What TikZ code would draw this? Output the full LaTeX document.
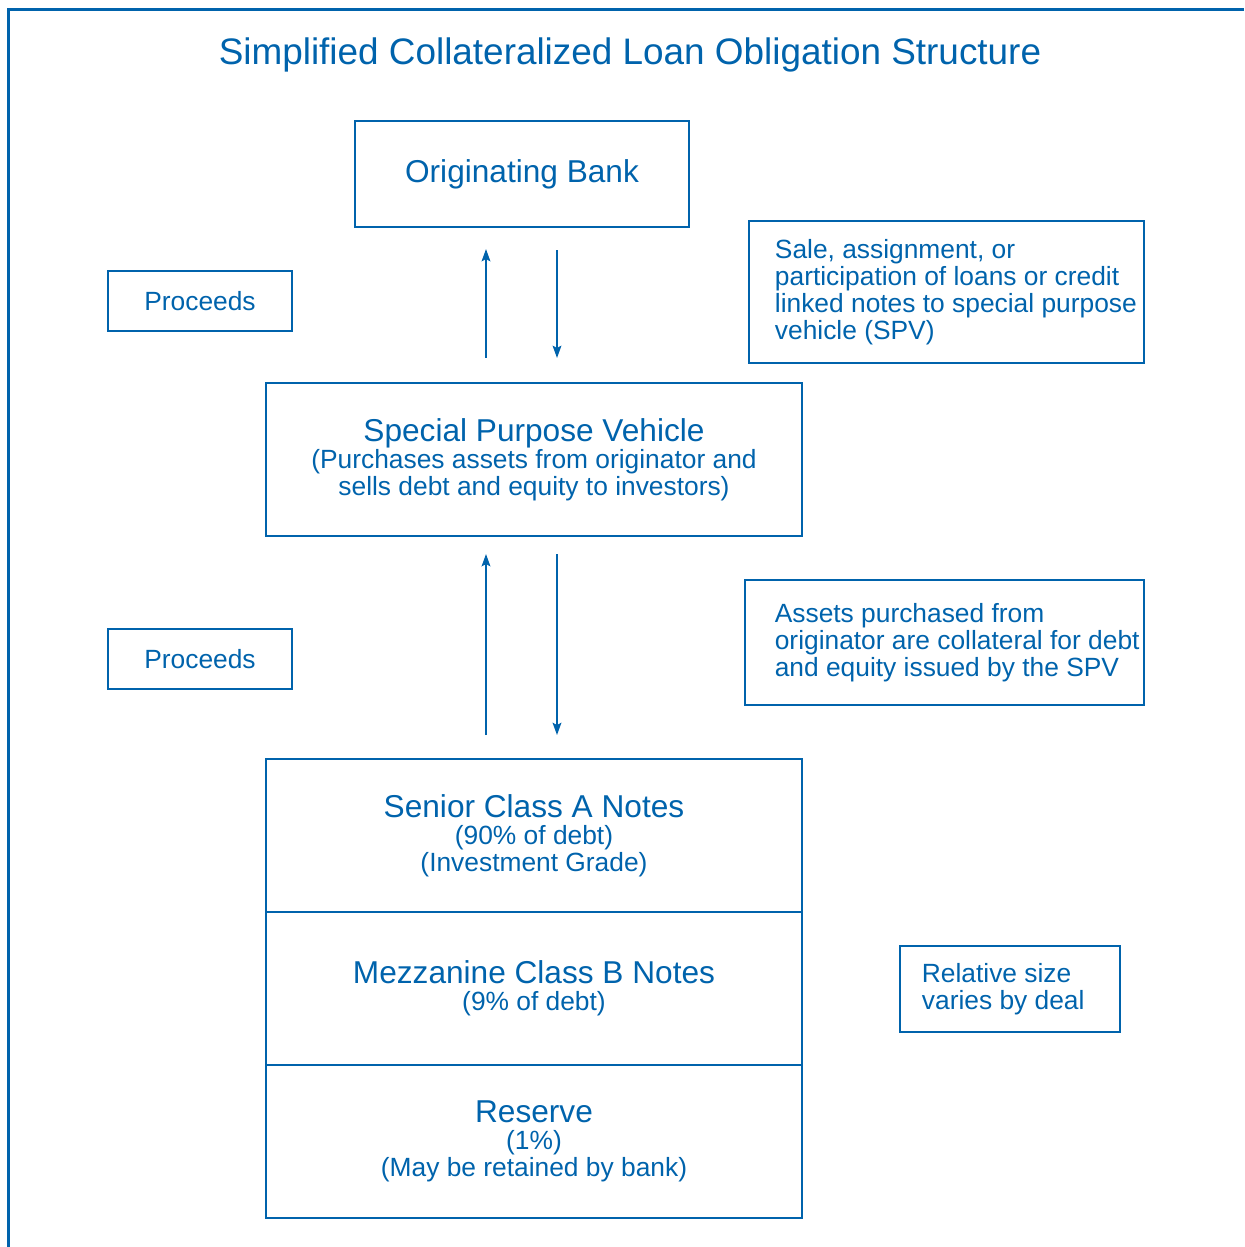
\documentclass[tikz,border=0pt]{standalone}
\usepackage{fontspec}
\setmainfont{Liberation Sans}
\usetikzlibrary{arrows.meta, positioning}
\definecolor{cloblue}{RGB}{0,99,172}
\newcommand{\pxu}{0.02cm}
\newcommand{\hd}[1]{{\fontsize{18}{15.3}\selectfont #1}}

\begin{document}
\begin{tikzpicture}[
    x=0.02cm, y=-0.02cm,
    mainbox/.style={
        draw=cloblue, text=cloblue, line width=1.2pt, align=center,
        inner sep=0pt, font=\fontsize{15}{15.3}\selectfont
    },
    tranche/.style={
        mainbox, outer sep=0pt, minimum width=536*\pxu, minimum height=153*\pxu
    },
    notebox/.style={
        draw=cloblue, text=cloblue, line width=0.6pt, align=flush left,
        inner sep=0pt, font=\fontsize{15}{15.3}\selectfont
    },
    textindent/.style={execute at begin node={\leftskip=#1}},
    flow/.style={
        draw=cloblue, line width=0.85pt, -{Stealth[length=7pt, width=5pt, inset=1.3pt]}
    }
]
\useasboundingbox (0,0) rectangle (1244,1247);

% Frame and title
\draw[cloblue, line width=1.7pt] (8.5,1247) -- (8.5,9.5) -- (1244,9.5);
\node[text=cloblue, font=\fontsize{21}{25}\selectfont] (title) at (630,55)
    {Simplified Collateralized Loan Obligation Structure};

% Main chain
\node[mainbox, minimum width=334*\pxu, minimum height=106*\pxu] (bank) at (522,174)
    {\hd{Originating Bank}};
\node[mainbox, minimum width=536*\pxu, minimum height=153*\pxu] (spv) at (534,459.5)
    {\hd{Special Purpose Vehicle}\\(Purchases assets from originator and\\sells debt and equity to investors)};

% Tranches
\node[tranche] (senior) at (534,835.5)
    {\hd{Senior Class A Notes}\\(90\% of debt)\\(Investment Grade)};
\node[tranche, below=0pt of senior] (mezz)
    {\hd{Mezzanine Class B Notes}\\(9\% of debt)};
\node[tranche, below=0pt of mezz] (reserve)
    {\hd{Reserve}\\(1\%)\\(May be retained by bank)};

% Side notes
\node[notebox, minimum width=184*\pxu, minimum height=60*\pxu, align=center] (proc1) at (200,301) {Proceeds};
\node[notebox, minimum width=184*\pxu, minimum height=60*\pxu, align=center] (proc2) at (200,659) {Proceeds};
\node[notebox, minimum width=395*\pxu, minimum height=142*\pxu,
      text width=393*\pxu, textindent=14.2pt] (sale) at (946.5,292)
    {\mbox{Sale, assignment, or}\\\mbox{participation of loans or credit}\\
     \mbox{linked notes to special purpose}\\\mbox{vehicle (SPV)}};
\node[notebox, minimum width=399*\pxu, minimum height=125*\pxu,
      text width=397*\pxu, textindent=16.4pt] (assets) at (944.5,642.5)
    {\mbox{Assets purchased from}\\\mbox{originator are collateral for debt}\\
     \mbox{and equity issued by the SPV}};
\node[notebox, minimum width=220*\pxu, minimum height=86*\pxu,
      text width=218*\pxu, textindent=11.9pt] (relsize) at (1010,989)
    {\mbox{Relative size}\\\mbox{varies by deal}};

% Arrows
\coordinate (lx) at (486,0);
\coordinate (rx) at (557,0);
\draw[flow, shorten <=0.48cm, shorten >=0.42cm] (spv.north -| lx) -- (bank.south -| lx);
\draw[flow, shorten <=0.44cm, shorten >=0.48cm] (bank.south -| rx) -- (spv.north -| rx);
\draw[flow, shorten <=0.48cm, shorten >=0.34cm] (senior.north -| lx) -- (spv.south -| lx);
\draw[flow, shorten <=0.34cm, shorten >=0.48cm] (spv.south -| rx) -- (senior.north -| rx);

\end{tikzpicture}
\end{document}
